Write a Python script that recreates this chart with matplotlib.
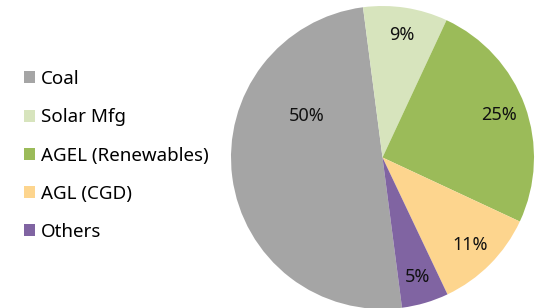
import numpy as np
import matplotlib.pyplot as plt
from matplotlib.patches import Patch

# Datos
labels = ['Coal', 'Solar Mfg', 'AGEL (Renewables)', 'AGL (CGD)', 'Others']
values = [50, 9, 25, 11, 5]
colors = ['#A5A5A5', '#D7E4BD', '#9BBB59', '#FDD58E', '#8064A2']

plt.rcParams['font.family'] = ['Noto Sans', 'DejaVu Sans']

fig = plt.figure(figsize=(5.39, 3.08), dpi=100)
ax = fig.add_axes([231 / 539, -1 / 308, 303 / 539, 303 / 308])

wedges, texts, autotexts = ax.pie(
    values, colors=colors, startangle=277.4, counterclock=False,
    autopct='%d%%', pctdistance=0.82, radius=1,
    textprops={'fontsize': 13, 'color': '#111111'},
    wedgeprops={'linewidth': 0})

# la etiqueta de Coal va mas adentro, como en el original
ang = np.deg2rad(151.5)
autotexts[0].set_position((0.57 * np.cos(ang), 0.57 * np.sin(ang)))

ax.set_xlim(-1, 1)
ax.set_ylim(-1, 1)
ax.set_aspect('equal')

handles = [Patch(facecolor=c, edgecolor='none') for c in colors]
fig.legend(handles, labels, loc='upper left', bbox_to_anchor=(0.030, 0.797),
           frameon=False, fontsize=13.5, handlelength=0.6, handleheight=0.6,
           handletextpad=0.3, labelspacing=1.08, borderaxespad=0)

fig.savefig('out.png', dpi=100)
